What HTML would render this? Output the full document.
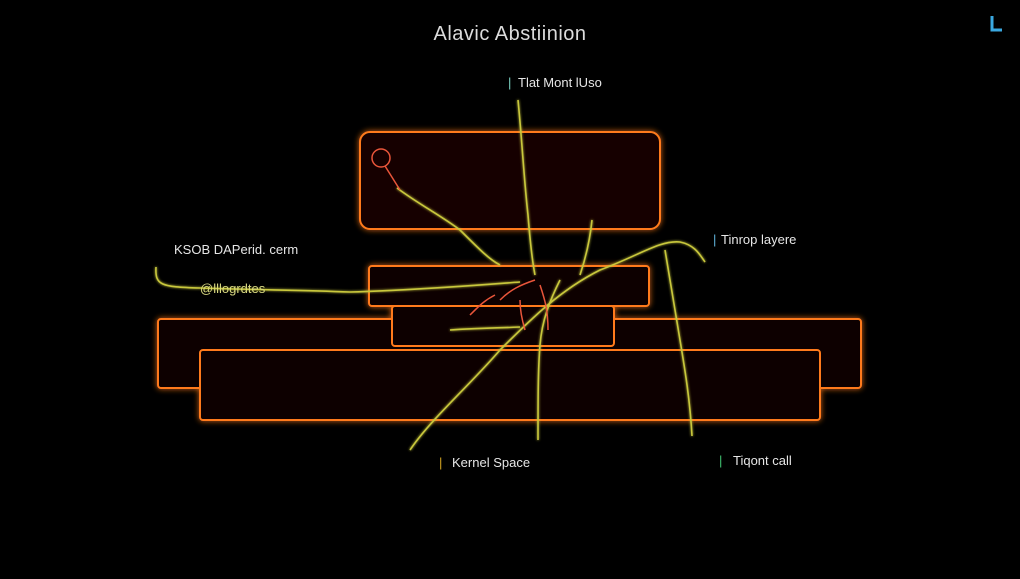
<!DOCTYPE html>
<html><head><style>
body{margin:0;width:1020px;height:574px;background:#000;overflow:hidden;font-family:"Liberation Sans",sans-serif}
</style></head><body>
<svg width="1020" height="574" viewBox="0 0 1020 574" xmlns="http://www.w3.org/2000/svg">
<defs>
<filter id="g" x="-20%" y="-20%" width="140%" height="140%"><feGaussianBlur stdDeviation="3" result="b"/><feMerge><feMergeNode in="b"/><feMergeNode in="SourceGraphic"/></feMerge></filter>
<filter id="g2"><feGaussianBlur stdDeviation="1.2" result="b"/><feMerge><feMergeNode in="b"/><feMergeNode in="SourceGraphic"/></feMerge></filter>
</defs>
<rect width="1020" height="574" fill="#000"/>
<g fill="#080302" stroke="#ff7a1a" stroke-width="2" filter="url(#g)">
<rect x="360" y="132" width="300" height="97" rx="10" fill="#120603"/>
<rect x="158" y="319" width="703" height="69" rx="3"/>
<rect x="200" y="350" width="620" height="70" rx="3"/>
<rect x="369" y="266" width="280" height="40" rx="3"/>
<rect x="392" y="306" width="222" height="40" rx="3"/>
</g>
<g fill="none" stroke="#c9c83c" stroke-width="1.6" filter="url(#g2)">
<path d="M518 100 C522 140 524 180 528 215 C530 240 532 260 535 275"/>
<path d="M397 188 C420 205 440 215 460 230 C480 250 490 260 500 265"/>
<path d="M156 267 C155 285 160 287 200 288 C260 290 300 290 350 292 C420 290 480 285 520 282"/>
<path d="M410 450 C430 420 470 385 500 350 C530 320 560 290 600 270 C640 255 660 240 680 242 C695 245 700 255 705 262"/>
<path d="M538 440 C538 400 538 370 540 345 C542 320 550 300 560 280"/>
<path d="M592 220 C590 240 585 260 580 275"/>
<path d="M692 436 C690 400 685 370 680 340 C675 310 670 280 665 250"/>
<path d="M450 330 C480 328 500 328 520 327"/>
</g>
<g fill="none" stroke="#e8553a" stroke-width="1.5">
<circle cx="381" cy="158" r="9"/>
<path d="M385 166 L400 190 M500 300 C510 290 520 285 535 280 M520 300 C520 310 522 320 525 330 M540 285 C545 300 548 310 548 330 M495 295 C485 300 480 305 470 315"/>
</g>
<g font-size="13" fill="#e6e6e6">
<text x="510" y="40" font-size="20" text-anchor="middle" fill="#dcdcdc" letter-spacing="0.5">Alavic Abstiinion</text>
<text x="508" y="87" fill="#7ad0c0">|</text><text x="518" y="87">Tlat Mont lUso</text>
<text x="174" y="254">KSOB DAPerid. cerm</text>
<text x="200" y="293" fill="#d8d880">@lllogrdtes</text>
<text x="713" y="244" fill="#5fb0d8">|</text><text x="721" y="244">Tinrop layere</text>
<text x="439" y="467" fill="#d0a020">|</text><text x="452" y="467">Kernel Space</text>
<text x="719" y="465" fill="#40c070">|</text><text x="733" y="465">Tiqont call</text>
</g>
<path d="M992 16 L992 30 L1002 30" stroke="#3aa8e0" stroke-width="3" fill="none"/>
</svg>
</body></html>
